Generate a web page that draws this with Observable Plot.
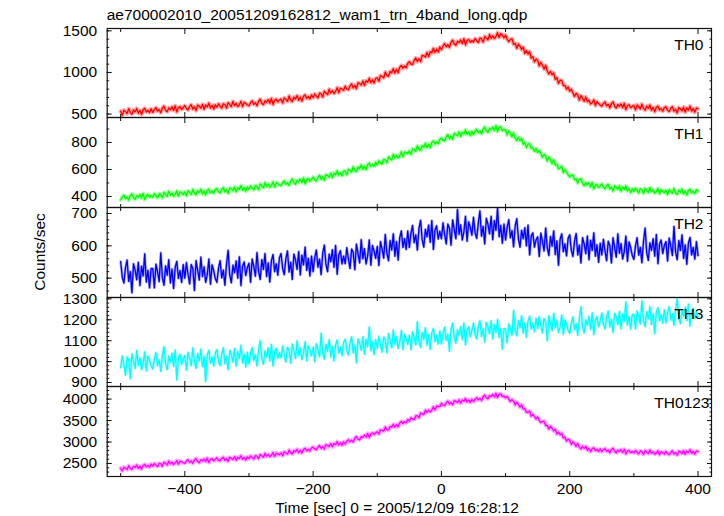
<!DOCTYPE html>
<html><head><meta charset="utf-8">
<script src="https://cdn.jsdelivr.net/npm/d3@7"></script>
<script src="https://cdn.jsdelivr.net/npm/@observablehq/plot@0.6"></script>
<style>
body{margin:0;background:#fff;font-family:"Liberation Sans",Arial,sans-serif;}
#c{position:relative;width:724px;height:516px;overflow:hidden;background:#fff;}
.t{position:absolute;color:#000;font-size:15.5px;line-height:15.5px;white-space:nowrap;}
.p{position:absolute;left:0;}
</style></head><body><div id="c"></div>
<script>
const title = "ae700002010_20051209162812_wam1_trn_4band_long.qdp";
const xLabel = "Time [sec] 0 = 2005/12/09 16:28:12";
const yLabel = "Counts/sec";
const panelNames = ["TH0","TH1","TH2","TH3","TH0123"];
const colors = ["#ff0000","#00ff00","#0000ff","#00ffff","#ff00ff"];
const time = d3.range(-500, 401, 2.5);

const th0 = [
535,486,548,529,505,566,518,499,550,526,568,509,545,496,553,569,525,546,518,564,
520,556,578,534,556,517,573,595,546,528,574,555,587,543,600,526,577,589,555,577,
603,564,551,592,613,559,586,542,608,594,571,617,558,609,586,632,573,604,561,612,
583,624,596,572,623,615,571,637,614,590,652,603,629,591,612,653,590,641,627,609,
600,637,659,616,638,600,657,679,631,613,660,642,674,631,688,615,667,679,646,668,
680,632,695,677,654,717,669,651,704,681,723,666,703,656,713,730,688,710,682,730,
697,742,716,696,751,745,705,775,754,734,799,753,783,747,772,817,756,811,801,785,
835,801,792,837,863,814,845,805,876,867,848,898,844,900,881,931,877,913,874,929,
935,894,963,952,936,1005,964,953,1012,996,1045,994,1038,997,1061,1085,1049,1078,1057,1111,
1130,1100,1095,1145,1175,1130,1165,1130,1205,1200,1185,1240,1190,1250,1235,1290,1240,1280,1245,1305,
1275,1318,1346,1308,1335,1301,1362,1387,1342,1326,1375,1358,1391,1348,1405,1332,1384,1396,1363,1384,
1365,1408,1381,1359,1412,1406,1365,1434,1413,1392,1456,1410,1441,1407,1433,1479,1420,1468,1445,1415,
1450,1398,1370,1398,1405,1337,1348,1290,1342,1313,1275,1304,1228,1262,1221,1250,1174,1188,1127,1161,
1145,1078,1121,1084,1042,1085,1018,981,1014,972,995,918,936,869,907,905,843,846,799,827,
775,799,753,713,749,726,669,723,688,654,706,649,667,621,636,671,602,648,630,607,
595,628,646,599,617,575,628,646,594,572,615,593,622,576,630,554,603,612,576,595,
603,551,610,588,562,620,569,547,596,569,608,546,580,528,582,595,549,567,536,579,
587,547,531,571,590,535,559,514,579,563,538,583,523,574,549,595,535,566,522,573,
566];
const th1 = [
375,397,410,383,396,373,407,419,390,379,407,395,414,388,422,377,408,415,395,407,
396,421,404,390,421,416,390,430,416,402,439,410,426,403,416,441,403,434,426,415,
434,405,442,430,416,453,424,412,443,429,454,418,440,411,445,454,428,441,424,451,
458,435,427,452,465,434,450,424,464,456,442,470,435,466,452,481,446,465,439,470,
453,479,462,449,481,476,451,492,478,465,503,474,491,468,482,508,470,502,495,484,
480,503,516,491,504,482,516,530,501,491,519,509,528,503,537,494,525,533,513,527,
543,522,516,542,557,527,545,520,562,556,544,573,540,573,561,590,557,578,554,586,
589,562,602,593,581,620,594,585,618,606,634,601,625,598,635,647,623,638,624,654,
636,664,651,640,674,672,650,693,682,671,712,686,705,685,702,730,695,729,725,717,
739,713,754,746,735,775,750,742,776,765,794,762,787,761,799,812,789,805,792,823,
833,815,812,841,858,829,848,825,867,861,849,879,845,877,864,893,859,878,852,883,
860,883,897,872,886,864,899,913,885,875,904,894,914,889,924,881,912,916,889,895,
894,856,885,865,843,871,834,814,837,814,831,787,801,763,789,790,756,760,735,754,
726,741,715,691,712,697,662,692,668,644,672,633,639,606,610,625,577,598,581,560,
545,557,560,525,530,499,526,532,497,480,503,487,502,472,503,456,484,489,467,478,
493,468,457,480,490,456,470,441,479,468,452,478,440,469,452,478,441,457,429,457,
438,461,443,427,457,450,423,461,446,430,465,435,449,425,436,460,420,450,440,428,
445,415,450,438,423,459,428,416,446,431,455,419,441,411,444,454,427,440,422,450,
441];
const th2 = [
551,503,485,533,556,490,520,455,544,525,495,549,477,537,507,575,488,524,470,530,
530,470,543,519,489,578,502,478,538,509,557,485,528,468,534,552,499,523,487,542,
500,548,512,482,542,530,462,554,524,494,565,505,535,487,511,559,481,541,523,499,
487,530,554,501,525,478,544,586,509,486,540,517,553,500,566,477,537,550,508,533,
546,487,559,536,506,579,520,496,557,527,576,505,547,488,554,573,520,544,509,563,
576,529,511,560,584,519,549,496,574,557,527,582,510,571,541,596,524,561,507,568,
520,563,587,534,559,511,578,602,543,520,574,551,588,534,601,512,572,585,544,568,
545,594,559,530,590,579,526,605,576,547,619,560,591,544,569,618,540,601,584,561,
598,539,613,590,562,635,577,554,616,587,637,568,613,556,625,646,595,622,589,646,
595,638,663,610,634,587,654,679,619,596,651,628,664,611,678,589,649,662,621,645,
622,671,635,606,667,655,602,680,651,622,712,635,665,618,643,691,614,674,657,633,
688,640,623,671,708,630,660,606,685,667,637,691,619,678,648,716,628,663,608,667,
618,658,681,625,647,597,662,684,622,596,648,622,656,600,664,572,630,640,596,618,
628,567,639,614,584,655,594,570,629,599,646,573,615,540,620,637,582,606,569,623,
634,586,567,615,638,572,602,547,625,606,576,630,557,617,586,640,568,603,549,608,
572,620,584,554,614,601,547,625,595,565,637,577,607,559,582,630,552,612,594,570,
558,600,625,571,595,548,614,655,579,555,609,586,622,568,635,545,605,618,576,601,
613,553,624,600,570,660,581,557,616,586,634,561,603,543,608,626,572,595,559,613,
570];
const th3 = [
971,1027,986,935,1022,1008,918,1037,1002,968,1052,982,1018,962,991,1047,956,1027,1006,979,
965,1014,1043,980,1009,953,1030,1072,989,962,1025,997,1040,977,1055,912,1020,1035,986,1015,
1029,959,1044,1016,981,1066,996,968,1039,1004,1060,977,1026,905,1034,1055,992,1021,979,1042,
1057,1001,981,1037,1066,989,1025,962,1054,1033,998,1062,978,1049,1014,1078,994,1037,974,1045,
989,1039,1067,1005,1034,979,1056,1100,1015,988,1051,1024,1066,1004,1082,978,1048,1063,1015,1044,
1017,1074,1032,998,1068,1055,992,1084,1049,1015,1099,1030,1065,1010,1038,1095,1004,1075,1054,1027,
1069,1000,1085,1058,1023,1135,1039,1012,1083,1049,1105,1022,1072,1003,1081,1103,1040,1069,1028,1092,
1107,1052,1032,1089,1118,1042,1078,995,1108,1088,1054,1118,1035,1106,1072,1165,1053,1096,1034,1105,
1064,1121,1080,1046,1117,1104,1042,1134,1100,1066,1151,1082,1118,1063,1092,1149,1059,1130,1110,1083,
1126,1057,1142,1114,1080,1190,1096,1068,1139,1105,1162,1078,1128,1059,1137,1158,1096,1125,1084,1147,
1085,1135,1164,1102,1131,1050,1155,1184,1115,1088,1152,1125,1168,1106,1184,1080,1152,1167,1119,1148,
1184,1129,1109,1167,1196,1120,1156,1094,1187,1167,1134,1195,1109,1177,1140,1201,1115,1155,1060,1158,
1156,1091,1180,1157,1127,1245,1149,1124,1196,1162,1219,1136,1186,1117,1195,1217,1155,1184,1143,1207,
1159,1215,1172,1137,1206,1192,1100,1219,1183,1148,1231,1161,1195,1139,1166,1222,1130,1200,1178,1150,
1135,1185,1214,1152,1181,1126,1204,1262,1164,1137,1201,1174,1217,1155,1233,1129,1200,1215,1167,1196,
1232,1177,1157,1213,1242,1166,1202,1139,1231,1211,1177,1240,1157,1228,1194,1285,1174,1217,1155,1225,
1226,1157,1242,1214,1180,1290,1196,1168,1239,1205,1262,1178,1228,1135,1237,1258,1196,1225,1184,1247,
1185,1234,1263,1200,1229,1173,1250,1300,1209,1182,1245,1217,1260,1197,1275,1170,1240,1255,1206,1235,
1215];
const th0123 = [
2391,2326,2414,2391,2360,2449,2383,2360,2434,2404,2464,2385,2438,2373,2454,2480,2421,2454,2416,2484,
2439,2499,2461,2430,2504,2494,2435,2530,2499,2468,2556,2490,2529,2477,2509,2569,2482,2556,2539,2515,
2505,2557,2587,2527,2557,2504,2583,2614,2546,2521,2586,2561,2605,2545,2624,2522,2594,2611,2564,2595,
2632,2578,2560,2618,2648,2573,2611,2550,2643,2624,2592,2657,2575,2647,2615,2680,2598,2642,2582,2654,
2614,2675,2637,2607,2681,2672,2613,2709,2678,2648,2736,2671,2710,2659,2691,2752,2665,2740,2723,2700,
2746,2682,2772,2749,2720,2810,2746,2723,2799,2770,2832,2753,2808,2744,2827,2853,2796,2830,2794,2862,
2882,2834,2820,2884,2919,2850,2892,2837,2935,2922,2894,2965,2888,2966,2938,3009,2932,2982,2926,3004,
2955,3016,3055,3004,3043,2999,3087,3127,3068,3052,3126,3110,3163,3112,3200,3107,3188,3214,3176,3216,
3241,3186,3284,3271,3250,3349,3293,3280,3364,3344,3414,3345,3408,3353,3444,3480,3431,3474,3446,3524,
3489,3563,3538,3521,3608,3612,3566,3675,3657,3640,3741,3689,3741,3703,3748,3822,3748,3836,3832,3822,
3902,3858,3848,3914,3951,3882,3924,3867,3964,3948,3918,3985,3905,3979,3948,4015,3935,3980,3920,3993,
3940,3997,4034,3979,4016,3968,4054,4090,4029,4009,4081,4060,4108,4052,4136,4037,4114,4123,4059,4072,
4029,4063,3998,3941,3988,3950,3863,3930,3871,3812,3868,3770,3777,3693,3693,3721,3602,3644,3595,3539,
3582,3500,3453,3483,3485,3382,3391,3302,3367,3320,3259,3296,3186,3230,3169,3206,3096,3112,3023,3067,
3041,2946,3006,2956,2901,2967,2881,2839,2897,2852,2899,2808,2851,2776,2849,2866,2800,2825,2780,2840,
2775,2822,2848,2783,2809,2751,2826,2852,2780,2750,2811,2781,2821,2756,2831,2724,2792,2804,2753,2779,
2749,2804,2760,2724,2792,2777,2712,2802,2765,2729,2811,2740,2773,2716,2742,2797,2704,2773,2750,2721,
2782,2728,2708,2766,2795,2720,2756,2695,2787,2768,2734,2799,2716,2788,2754,2819,2736,2780,2718,2790,
2775];

const series = [th0, th1, th2, th3, th0123];
const xMajor = [-400, -200, 0, 200, 400];
const xMinor = [-500, -300, -100, 100, 300];
const yMajor = [[500,1000,1500],[400,600,800],[500,600,700],[900,1000,1100,1200,1300],[2500,3000,3500,4000]];
const yMinor = [d3.range(500,1501,100), d3.range(400,901,100), d3.range(460,701,20), d3.range(900,1301,20), d3.range(2300,4201,100)];

// layout
const yDomains = [[459,1528],[318.5,985],[440,718.6],[880.9,1306.7],[2197,4293]];
const tops = [27.7,116.7,206.7,296.7,385.7];
const heights = [89,90,90,89,90];
const labelDx = [-8,-8,-8,-8,-2];
const haloW = [4, 4, 2.6, 2.6, 4];
const font = "'Liberation Sans', Arial, sans-serif";

const c = document.getElementById("c");
function addText(txt, css) {
  const d = document.createElement("div");
  d.className = "t"; d.textContent = txt;
  Object.assign(d.style, css);
  c.appendChild(d);
}

series.forEach((vals, k) => {
  const data = time.map((t, i) => ({t, v: vals[i]}));
  const last = k === series.length - 1;
  const mb = last ? 40 : 0;
  const marks = [
    Plot.line(data, {x: "t", y: "v", stroke: colors[k], strokeWidth: haloW[k], strokeOpacity: 0.35}),
    Plot.line(data, {x: "t", y: "v", stroke: colors[k], strokeWidth: 1.3}),
    Plot.frame({stroke: "#111", strokeWidth: 1.2}),
    Plot.axisX({anchor: "bottom", ticks: xMajor, tickSize: -5, fill: "none", label: null, stroke: "#111"}),
    Plot.axisX({anchor: "bottom", ticks: xMinor, tickSize: -3, fill: "none", label: null, stroke: "#111"}),
    Plot.axisX({anchor: "top", ticks: xMajor, tickSize: -5, fill: "none", label: null, stroke: "#111"}),
    Plot.axisX({anchor: "top", ticks: xMinor, tickSize: -3, fill: "none", label: null, stroke: "#111"}),
    Plot.axisY({anchor: "left", ticks: yMajor[k], tickSize: -5, fill: "none", label: null, stroke: "#111"}),
    Plot.axisY({anchor: "left", ticks: yMinor[k], tickSize: -2.5, fill: "none", label: null, stroke: "#111"}),
    Plot.axisY({anchor: "right", ticks: yMajor[k], tickSize: -5, fill: "none", label: null, stroke: "#111"}),
    Plot.axisY({anchor: "right", ticks: yMinor[k], tickSize: -2.5, fill: "none", label: null, stroke: "#111"}),
    Plot.axisY({anchor: "left", ticks: yMajor[k], tickSize: 0, tickPadding: 10, tickFormat: "d", label: null, fill: "#000"}),
    Plot.text([panelNames[k]], {frameAnchor: "top-right", textAnchor: "end", dx: labelDx[k], dy: 10.5, fill: "#000", fontSize: 15.5})
  ];
  if (last) marks.push(Plot.axisX({anchor: "bottom", ticks: xMajor, tickSize: 0, tickPadding: 6, tickFormat: "d", label: null, fill: "#000"}));
  const svg = Plot.plot({
    width: 724, height: heights[k] + mb,
    marginLeft: 106.7, marginRight: 13, marginTop: 0, marginBottom: mb,
    style: {background: "transparent", overflow: "visible", fontSize: "15.5px", fontFamily: font, color: "#000"},
    x: {domain: [-521, 421]},
    y: {domain: yDomains[k]},
    marks
  });
  const w = document.createElement("div");
  w.className = "p"; w.style.top = tops[k] + "px";
  w.appendChild(svg);
  c.appendChild(w);
});

addText(title, {left: "106.7px", top: "6.9px"});
addText(xLabel, {left: "397px", top: "499.8px", transform: "translateX(-50%)"});
addText(yLabel, {left: "40px", top: "251.7px", transform: "translate(-50%,-50%) rotate(-90deg)"});
</script>
</body></html>
